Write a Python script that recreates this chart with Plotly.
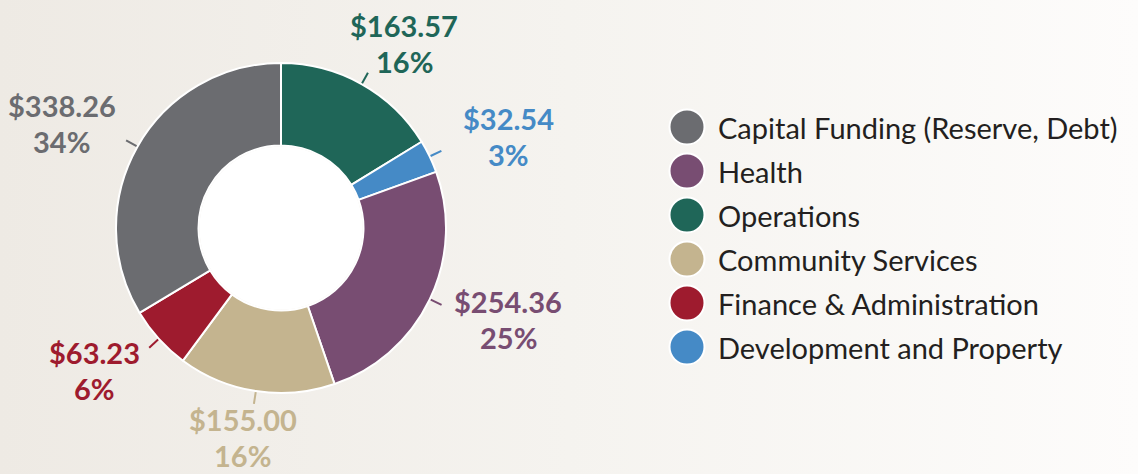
import math
import plotly.graph_objects as go

# Budget by department, in slice order (clockwise from 12 o'clock)
categories = [
    "Operations",
    "Development and Property",
    "Health",
    "Community Services",
    "Finance & Administration",
    "Capital Funding (Reserve, Debt)",
]
amounts = [163.57, 32.54, 254.36, 155.00, 63.23, 338.26]
percent_labels = ["16%", "3%", "25%", "16%", "6%", "34%"]
colors = ["#1f6658", "#458ac6", "#784d72", "#c4b48f", "#9e1b2e", "#6b6c70"]

# Canvas and donut geometry (pixels)
W, H = 1138, 474
CX, CY, R = 281, 228, 165
HOLE = 0.5
LABEL_RX, LABEL_RY = 252, 212
LINE_GAP = 18  # half the distance between the two label lines

fig = go.Figure()

# Donut
fig.add_trace(go.Pie(
    labels=categories,
    values=amounts,
    sort=False,
    direction="clockwise",
    rotation=0,
    hole=HOLE,
    marker=dict(colors=colors, line=dict(color="white", width=2)),
    textinfo="none",
    hoverinfo="label+value+percent",
    showlegend=False,
    domain=dict(
        x=[(CX - R) / W, (CX + R) / W],
        y=[1 - (CY + R) / H, 1 - (CY - R) / H],
    ),
))

shapes = []
annotations = []

# White centre of the donut
shapes.append(dict(
    type="circle", xref="x", yref="y", layer="above",
    x0=CX - R * HOLE + 1, x1=CX + R * HOLE - 1,
    y0=CY - R * HOLE + 1, y1=CY + R * HOLE - 1,
    fillcolor="white", line=dict(width=0),
))

# Leader ticks and value labels at each slice's mid-angle
total = sum(amounts)
cum = 0.0
for name, val, pct, col in zip(categories, amounts, percent_labels, colors):
    mid = (cum + val / 2) / total * 2 * math.pi
    cum += val
    s, c = math.sin(mid), math.cos(mid)
    shapes.append(dict(
        type="line", xref="x", yref="y", layer="above",
        x0=CX + (R + 1) * s, y0=CY - (R + 1) * c,
        x1=CX + (R + 13) * s, y1=CY - (R + 13) * c,
        line=dict(color=col, width=2),
    ))
    lx, ly = CX + LABEL_RX * s, CY - LABEL_RY * c
    for text, dy in ((f"${val:.2f}", -LINE_GAP), (pct, LINE_GAP)):
        annotations.append(dict(
            x=lx, y=ly + dy,
            xref="x", yref="y", xanchor="center", yanchor="middle",
            text=text, showarrow=False,
            font=dict(family="Lato", size=29, color=col, weight="bold"),
        ))

# Legend, largest amount first
legend_items = sorted(zip(categories, amounts, colors), key=lambda t: -t[1])
LEG_X, LEG_Y, LEG_STEP = 687, 127, 44
fig.add_trace(go.Scatter(
    x=[LEG_X] * len(legend_items),
    y=[LEG_Y + LEG_STEP * i for i in range(len(legend_items))],
    mode="markers",
    marker=dict(size=35, color=[t[2] for t in legend_items],
                line=dict(color="white", width=2)),
    hoverinfo="skip", showlegend=False, cliponaxis=False,
))
for i, (name, _, _) in enumerate(legend_items):
    annotations.append(dict(
        x=LEG_X + 29, y=LEG_Y + LEG_STEP * i,
        xref="x", yref="y", xanchor="left", yanchor="middle",
        text=name, showarrow=False,
        font=dict(family="Lato", size=29, color="#231f20"),
    ))

# Soft horizontal background gradient
bg_svg = (
    "data:image/svg+xml;utf8,"
    "<svg xmlns='http://www.w3.org/2000/svg' width='1138' height='474'>"
    "<defs><linearGradient id='g' x1='0' y1='0' x2='1' y2='0'>"
    "<stop offset='0' stop-color='%23eeeae4'/>"
    "<stop offset='0.5' stop-color='%23f5f3ef'/>"
    "<stop offset='1' stop-color='%23fdfcfb'/>"
    "</linearGradient></defs>"
    "<rect width='1138' height='474' fill='url(%23g)'/></svg>"
)

fig.update_layout(
    width=W, height=H,
    margin=dict(l=0, r=0, t=0, b=0),
    paper_bgcolor="#f5f3ef",
    plot_bgcolor="rgba(0,0,0,0)",
    xaxis=dict(range=[0, W], visible=False, fixedrange=True, domain=[0, 1]),
    yaxis=dict(range=[H, 0], visible=False, fixedrange=True, domain=[0, 1]),
    shapes=shapes,
    annotations=annotations,
    images=[dict(source=bg_svg, xref="paper", yref="paper", x=0, y=1,
                 sizex=1, sizey=1, sizing="stretch", layer="below",
                 xanchor="left", yanchor="top")],
    showlegend=False,
)

fig.write_html("out.html")
